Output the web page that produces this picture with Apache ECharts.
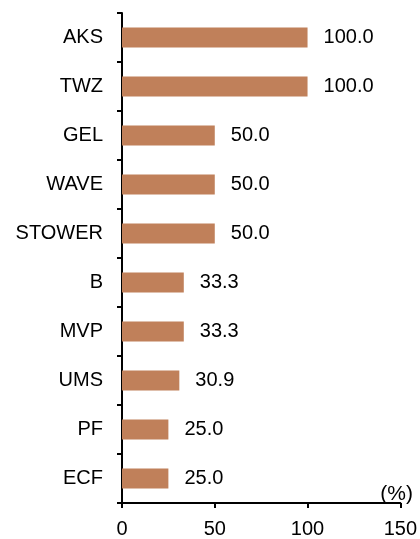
<!DOCTYPE html>
<html><head><meta charset="utf-8">
<script src="https://cdn.jsdelivr.net/npm/echarts@6/dist/echarts.min.js"></script>
<style>html,body{margin:0;padding:0;background:#fff}#c{width:420px;height:539px}</style>
</head><body><div id="c"></div>
<script>
const categories = ["AKS","TWZ","GEL","WAVE","STOWER","B","MVP","UMS","PF","ECF"];
const values = [100.0,100.0,50.0,50.0,50.0,33.3,33.3,30.9,25.0,25.0];
const xTicks = [0,50,100,150];
const chart = echarts.init(document.getElementById('c'), null, {renderer:'canvas'});
const font = 'Liberation Sans, Arial, sans-serif';
chart.setOption({
  animation:false,
  grid:{left:122,right:13,top:13,bottom:31,containLabel:false},
  xAxis:{type:'value',min:xTicks[0],max:xTicks[xTicks.length-1],interval:50,
    axisLine:{show:true,lineStyle:{color:'#000',width:2}},
    axisTick:{show:true,length:5,lineStyle:{color:'#000',width:2}},
    splitLine:{show:false},
    axisLabel:{color:'#000',fontSize:20,fontFamily:font,margin:16}},
  yAxis:{type:'category',data:categories,inverse:true,
    axisLine:{show:true,lineStyle:{color:'#000',width:2}},
    axisTick:{show:true,length:5,lineStyle:{color:'#000',width:2}},
    axisLabel:{color:'#000',fontSize:20,fontFamily:font,margin:19}},
  graphic:[{type:'text',right:7,top:484,style:{text:'(%)',fontSize:21,fontFamily:font,fill:'#000'}}],
  series:[{type:'bar',data:values,barWidth:20,itemStyle:{color:'#c0805a'},
    label:{show:true,position:'right',distance:16,color:'#000',fontSize:20,fontFamily:font,
      formatter:p=>p.value.toFixed(1)}}]
});
</script></body></html>
